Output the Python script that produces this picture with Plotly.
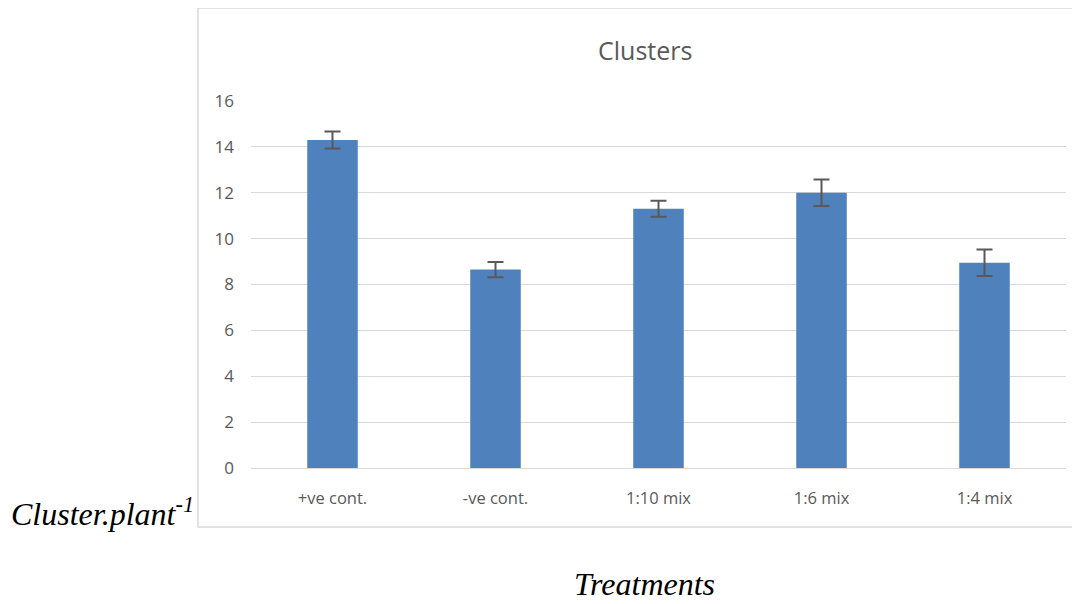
import plotly.graph_objects as go

categories = ["+ve cont.", "-ve cont.", "1:10 mix", "1:6 mix", "1:4 mix"]
values = [14.3, 8.65, 11.3, 12.0, 8.95]
errors = [0.37, 0.33, 0.35, 0.58, 0.58]
y_ticks = [0, 2, 4, 6, 8, 10, 12, 14, 16]

OFF = 8  # default page body margin
W, H = 1080 - OFF, 604 - OFF
L, R, T, B = 251 - OFF, 1066 - OFF, 101 - OFF, 468 - OFF
pw, ph = R - L, B - T

def px(x):
    return (x - OFF - L) / pw

def py(y):
    return (B - (y - OFF)) / ph

fig = go.Figure()
fig.add_trace(go.Bar(
    x=categories, y=values,
    marker=dict(color="#4f81bd", line=dict(width=0)),
    width=0.31,
    error_y=dict(type="data", array=errors, visible=True, color="#595959", thickness=2, width=8),
))

fig.update_layout(
    width=W, height=H,
    margin=dict(l=L, r=W - R, t=T, b=H - B, pad=0),
    paper_bgcolor="white", plot_bgcolor="white",
    showlegend=False,
    font=dict(family="Open Sans", color="#595959"),
    xaxis=dict(showgrid=False, showline=False, ticks="", tickfont=dict(size=16.5, color="#595959"),
               ticklabelstandoff=18),
    yaxis=dict(range=[0, 16], tickvals=y_ticks, showgrid=True, gridcolor="#d9d9d9", gridwidth=1,
               zeroline=True, zerolinecolor="#d9d9d9", zerolinewidth=1, showline=False,
               tickfont=dict(size=17, color="#595959"), ticklabelstandoff=16),
    shapes=[dict(type="rect", xref="paper", yref="paper",
                 x0=px(198), x1=px(1079), y0=py(527), y1=py(8),
                 line=dict(color="#d9d9d9", width=1.5), fillcolor="rgba(0,0,0,0)", layer="below")],
    annotations=[
        dict(text="Clusters", xref="paper", yref="paper", x=px(645), y=py(50),
             showarrow=False, font=dict(family="Open Sans", size=25, color="#595959"),
             xanchor="center", yanchor="middle"),
        dict(text="<i>Cluster.plant<sup>-1</sup></i>", xref="paper", yref="paper",
             x=px(196), y=py(512), showarrow=False, xanchor="right", yanchor="middle",
             font=dict(family="Liberation Serif", size=32, color="black")),
        dict(text="<i>Treatments</i>", xref="paper", yref="paper", x=px(644), y=py(603),
             showarrow=False, xanchor="center", yanchor="bottom", borderpad=0,
             font=dict(family="Liberation Serif", size=32, color="black")),
    ],
)

fig.write_html("out.html")
